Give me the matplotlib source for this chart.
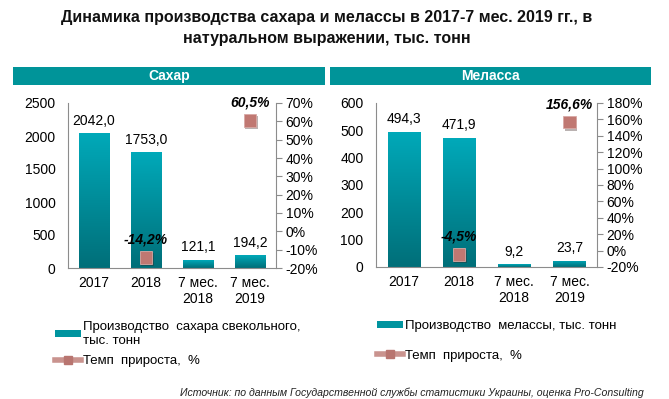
import numpy as np
import matplotlib
matplotlib.use("Agg")
import matplotlib.pyplot as plt
from matplotlib.patches import Rectangle, Patch
from matplotlib.lines import Line2D
from matplotlib import patheffects as pe
from matplotlib.colors import LinearSegmentedColormap

plt.rcParams['font.family'] = ['Liberation Sans', 'DejaVu Sans']

# data
categories = ['2017', '2018', '7 мес.\n2018', '7 мес.\n2019']
sugar = [2042.0, 1753.0, 121.1, 194.2]
sugar_growth = [np.nan, -14.2, np.nan, 60.5]
molasses = [494.3, 471.9, 9.2, 23.7]
molasses_growth = [np.nan, -4.5, np.nan, 156.6]

title = 'Динамика производства сахара и мелассы в 2017-7 мес. 2019 гг., в\nнатуральном выражении, тыс. тонн'
source = 'Источник: по данным Государственной службы статистики Украины, оценка Pro-Consulting'

teal_hdr = '#009499'
marker_col = '#c07872'
grad = LinearSegmentedColormap.from_list('g', ['#006f79', '#00a9b9'])

fig = plt.figure(figsize=(6.69, 3.99), dpi=100)
W, H = 669, 399


def fbox(x0, y0, x1, y1):
    # pixel box -> figure fraction [left, bottom, width, height]
    return [x0 / W, 1 - y1 / H, (x1 - x0) / W, (y1 - y0) / H]


fig.text(326.5 / W, 1 - 28 / H, title, ha='center', va='center', fontsize=11.5,
         fontweight='bold', family=['Liberation Sans Narrow', 'Liberation Sans'],
         linespacing=1.45, color='#111111')


def panel(box, hdr, name, vals, growth, ymax, ystep, gmin, gmax, gstep):
    # header strip
    fig.patches.append(Rectangle((hdr[0] / W, 1 - hdr[3] / H), (hdr[2] - hdr[0]) / W,
                                 (hdr[3] - hdr[1]) / H, transform=fig.transFigure,
                                 facecolor=teal_hdr, edgecolor='none'))
    fig.text((hdr[0] + hdr[2]) / 2 / W, 1 - (hdr[1] + hdr[3]) / 2 / H, name,
             ha='center', va='center', color='white', fontweight='bold', fontsize=10)

    ax = fig.add_axes(fbox(*box))
    x = np.arange(len(categories))
    bars = ax.bar(x, vals, width=0.58, color='none', edgecolor='none')
    for b in bars:
        bx, by = b.get_x(), b.get_y()
        im = ax.imshow(np.linspace(1, 0, 100).reshape(-1, 1), cmap=grad, aspect='auto',
                       extent=[bx, bx + b.get_width(), by, by + b.get_height()], zorder=2)
        im.set_clip_path(b)
    for xi, v in zip(x, vals):
        ax.annotate(f'{v:.1f}'.replace('.', ','), (xi, v), xytext=(0, 4),
                    textcoords='offset points', ha='center', va='bottom', fontsize=10)
    ax.set_xlim(-0.5, len(categories) - 0.5)
    ax.set_ylim(0, ymax)
    ax.set_yticks(np.arange(0, ymax + 1, ystep))
    ax.set_xticks(x)
    ax.set_xticklabels(categories, fontsize=10, linespacing=1.15)
    ax.tick_params(axis='both', length=0, labelsize=10)
    ax.tick_params(axis='y', pad=9)
    ax.tick_params(axis='x', pad=6)
    for s in ['top', 'right']:
        ax.spines[s].set_visible(False)
    for s in ['left', 'bottom']:
        ax.spines[s].set_color('#8c8c8c')

    ax2 = ax.twinx()
    ax2.plot(x, growth, 's', color=marker_col, markersize=9, markeredgecolor='#d9a9a5',
             markeredgewidth=0.6, zorder=5,
             path_effects=[pe.SimplePatchShadow(offset=(1.2, -1.5), alpha=0.35), pe.Normal()])
    for xi, g in zip(x, growth):
        if not np.isnan(g):
            ax2.annotate(f'{g:.1f}%'.replace('.', ','), (xi, g), xytext=(0, 8),
                         textcoords='offset points', ha='center', va='bottom',
                         fontsize=10, fontweight='bold', fontstyle='italic')
    ax2.set_ylim(gmin, gmax)
    ax2.set_yticks(np.arange(gmin, gmax + 1, gstep))
    ax2.set_yticklabels([f'{t}%' for t in range(gmin, gmax + 1, gstep)])
    ax2.tick_params(axis='y', length=4, color='#8c8c8c', labelsize=10, pad=3)
    for s in ['top', 'left', 'bottom']:
        ax2.spines[s].set_visible(False)
    ax2.spines['right'].set_color('#8c8c8c')
    return ax


panel((68, 103, 276, 268), (13, 67, 325, 85), 'Сахар', sugar, sugar_growth,
      2500, 500, -20, 70, 10)
panel((376, 103, 597, 267), (330, 67, 651, 85), 'Меласса', molasses, molasses_growth,
      600, 100, -20, 180, 20)

bar_handle = Patch(facecolor='#00949f', edgecolor='none')
line_handle = Line2D([], [], color='#c9938e', lw=4, marker='s', markersize=6,
                     markerfacecolor='#b87570', markeredgecolor='#b87570')

fig.legend([bar_handle, line_handle],
           ['Производство  сахара свекольного,\nтыс. тонн', 'Темп  прироста,  %'],
           loc='upper left', bbox_to_anchor=(55 / W, 1 - 321 / H), frameon=False,
           fontsize=9.5, handlelength=2.0, handleheight=0.45, handletextpad=0.15,
           labelspacing=0.65, borderaxespad=0, borderpad=0)
fig.legend([bar_handle, line_handle],
           ['Производство  мелассы, тыс. тонн', 'Темп  прироста,  %'],
           loc='upper left', bbox_to_anchor=(377 / W, 1 - 320 / H), frameon=False,
           fontsize=9.5, handlelength=2.0, handleheight=0.45, handletextpad=0.15,
           labelspacing=1.33, borderaxespad=0, borderpad=0)

fig.text(644 / W, 1 - 393 / H, source, ha='right', va='center', fontsize=7.6,
         fontstyle='italic', family=['Liberation Sans Narrow', 'Liberation Sans'],
         color='#222222')

fig.savefig('out.png', dpi=100)
